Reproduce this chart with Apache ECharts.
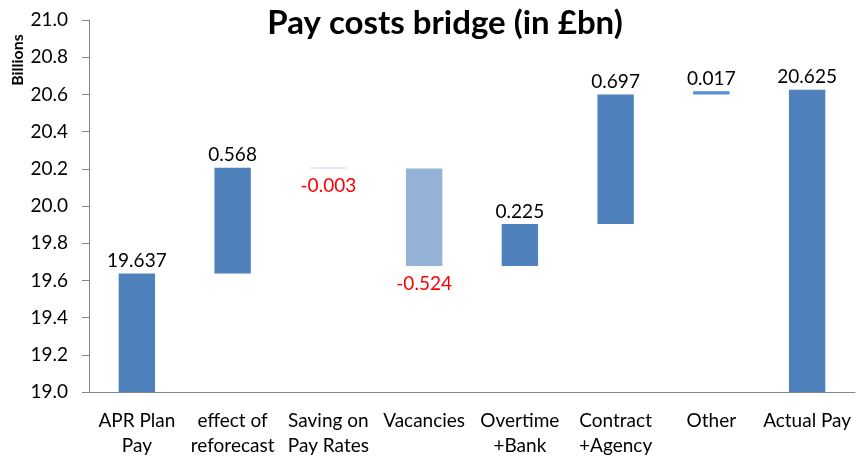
<!DOCTYPE html>
<html><head><meta charset="utf-8">
<script src="https://cdn.jsdelivr.net/npm/echarts@6/dist/echarts.min.js"></script>
<style>html,body{margin:0;padding:0;background:#fff}#c{width:856px;height:458px}</style>
</head><body><div id="c"></div>
<script>
const categories = ['APR Plan\nPay', 'effect of\nreforecast', 'Saving on\nPay Rates', 'Vacancies', 'Overtime\n+Bank', 'Contract\n+Agency', 'Other', 'Actual Pay'];
const deltas = [19.637, 0.568, -0.003, -0.524, 0.225, 0.697, 0.017, 20.625];
const isTotal = [true, false, false, false, false, false, false, true];
const yTicks = {min: 19.0, max: 21.0, interval: 0.2};

const FONT = 'Lato';
const base = [], height = [];
let running = 0;
deltas.forEach((d, i) => {
  if (isTotal[i]) { base.push(0); height.push(d); running = d; }
  else {
    const next = running + d;
    base.push(Math.min(running, next));
    height.push(Math.abs(d));
    running = next;
  }
});
const colors = ['#4F81BD', '#4F81BD', '#C6D9F1', '#95B3D7', '#4F81BD', '#4F81BD', '#558ED5', '#4F81BD'];

const chart = echarts.init(document.getElementById('c'));
chart.setOption({
  animation: false,
  title: {
    text: 'Pay costs bridge (in £bn)', left: 440, top: 2, textAlign: 'center',
    textStyle: {fontFamily: FONT, fontWeight: 'bold', fontSize: 33, color: '#000'}
  },
  graphic: [{
    type: 'text', x: 18, y: 60, rotation: Math.PI / 2,
    style: {text: 'Billions', fontFamily: FONT, fontWeight: 'bold', fontSize: 16, fill: '#000', align: 'center', verticalAlign: 'middle'}
  }],
  grid: {left: 89, right: 1, top: 20, bottom: 61},
  xAxis: {
    type: 'category', data: categories,
    axisLine: {lineStyle: {color: '#868686'}},
    axisTick: {length: 6, lineStyle: {color: '#868686'}},
    axisLabel: {fontFamily: FONT, fontSize: 19, color: '#000', margin: 16, lineHeight: 25, interval: 0}
  },
  yAxis: {
    type: 'value', min: yTicks.min, max: yTicks.max, interval: yTicks.interval,
    splitLine: {show: false},
    axisLine: {show: true, lineStyle: {color: '#868686'}},
    axisTick: {show: true, length: 7, lineStyle: {color: '#868686'}},
    axisLabel: {fontFamily: FONT, fontSize: 19, color: '#000', margin: 21, formatter: v => v.toFixed(1)}
  },
  series: [{
    type: 'bar', stack: 'w', data: base, itemStyle: {color: 'transparent'},
    barWidth: '38%', silent: true
  }, {
    type: 'bar', stack: 'w', barWidth: '38%', barMinHeight: 1,
    data: height.map((h, i) => ({
      value: h,
      itemStyle: {color: colors[i]},
      label: {
        show: true,
        position: deltas[i] < 0 ? 'bottom' : 'top',
        distance: deltas[i] < 0 ? 8 : 3,
        color: deltas[i] < 0 ? '#FF0000' : '#000',
        fontFamily: FONT, fontSize: 19,
        formatter: () => deltas[i].toFixed(3)
      }
    }))
  }]
});
</script></body></html>
